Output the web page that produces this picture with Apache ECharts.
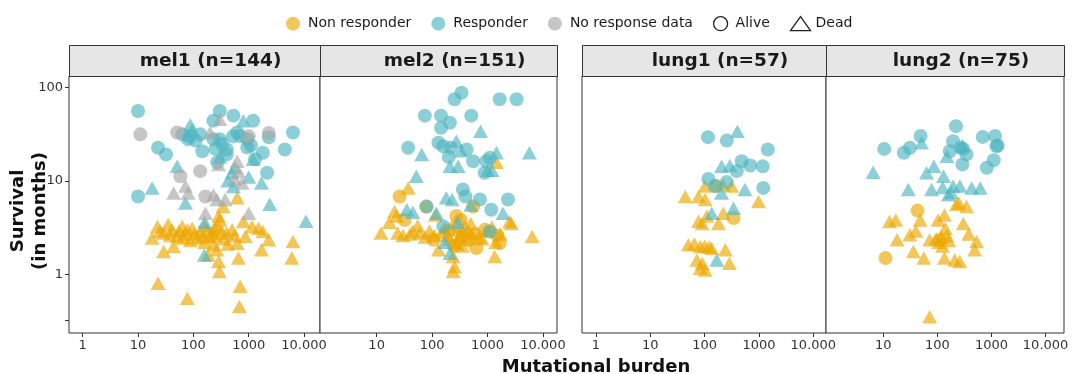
<!DOCTYPE html>
<html><head><meta charset="utf-8">
<script src="https://cdn.jsdelivr.net/npm/echarts@6/dist/echarts.min.js"></script>
<style>html,body{margin:0;padding:0;background:#fff}#c{width:1073px;height:374px}</style>
</head><body><div id="c"></div><script>
// ---------- DATA ([mutational burden, survival in months]) ----------
const panelTitles = ['mel1 (n=144)', 'mel2 (n=151)', 'lung1 (n=57)', 'lung2 (n=75)'];
const xTickValues = [1, 10, 100, 1000, 10000];
const xTickLabels = ['1', '10', '100', '1000', '10.000'];
const yTickValues = [1, 10, 100];
const yTickLabels = ['1', '10', '100'];
const yTickExtra = [0.32];
const groupNames = ['Non responder', 'Responder', 'No response data'];
const statusNames = ['Alive', 'Dead'];

// mel1
const mel1_resp_alive = [[10,56],[10,6.8],[23,22.6],[32,19.2],[63,31.5],[80,28],[133,31.5],[145,20.8],[230,44],[300,56],[530,50],[230,28],[300,28],[400,21.7],[620,33],[700,30.3],[940,28],[940,22.8],[1200,44],[1800,20],[2150,12.2],[2300,29.3],[4500,21.7],[6300,33],[1300,17],[270,15.8],[400,19.2],[110,27],[85,30],[520,30],[330,25],[1100,24],[250,22]];
const mel1_resp_dead = [[18,8.4],[51,14.3],[72,5.8],[88,40],[95,35],[160,3.6],[158,1.6],[500,12.2],[560,14],[530,8.7],[800,44],[1000,11],[1200,17],[1700,9.5],[2400,5.6],[10800,3.7],[300,18],[420,10]];
const mel1_nodata_alive = [[11,31.5],[51,33],[58,11.2],[133,12.7],[165,6.8],[1000,30],[2300,32.6]];
const mel1_nodata_dead = [[44,7.4],[72,8.8],[80,7.4],[200,33],[300,45.6],[285,15],[230,7.1],[265,6.3],[375,6.3],[165,4.5],[620,16.2],[650,12.7],[760,9.5],[1000,4.5],[560,10.5]];
const mel1_non_alive = [];
const mel1_non_dead = [[18,2.44],[22.5,3.25],[29,2.76],[29,1.75],[35,3.4],[41,3.0],[44,1.98],[51,2.54],[63,3.25],[66,2.44],[78,3.0],[95,3.1],[118,2.44],[133,2.87],[150,2.54],[178,3.0],[185,1.6],[218,2.76],[230,2.07],[265,1.83],[285,1.37],[295,1.07],[285,4.2],[345,5.3],[320,2.9],[400,2.76],[500,3.0],[620,6.6],[620,2.15],[650,1.49],[700,0.74],[680,0.45],[800,3.67],[870,2.54],[1150,3.25],[1500,3.1],[1700,1.83],[1800,2.87],[2300,2.34],[6000,1.49],[6300,2.24],[23,0.8],[78,0.55],[300,3.8],[25,2.9],[38,2.6],[55,2.9],[70,2.7],[88,2.3],[105,2.7],[160,2.2],[200,2.5],[250,2.6],[270,3.3],[350,2.4],[420,2.1],[160,3.3],[240,3.1],[560,2.6]];

// mel2
const mel2_resp_alive = [[340,88],[255,75],[1660,75],[3350,75],[74,50],[145,50],[210,42],[510,50],[145,37],[37,22.6],[130,25.6],[160,23.5],[220,22.6],[420,21.7],[550,16.2],[950,16.2],[1100,17.7],[890,12.2],[360,8.1],[730,6.3],[1170,4.9],[2340,6.3],[80,5.3],[160,3.25],[1100,2.87],[400,6.8],[200,18]];
const mel2_resp_dead = [[750,34],[65,19.2],[275,26.6],[330,21],[1450,20],[5700,20],[52,11.2],[210,14.3],[295,14.3],[180,6.6],[230,6.3],[35,4.9],[45,4.6],[120,4.5],[1900,4.5],[290,3.6],[210,1.68],[1000,13],[1200,13],[170,2.2],[500,5.5]];
const mel2_nodata_alive = [];
const mel2_nodata_dead = [];
const mel2_non_alive = [[26,6.8],[78,5.3],[550,5.3],[32,3.8],[275,4.2],[330,3.8],[105,2.34],[630,1.9],[1660,2.15],[200,2.9],[350,2.5],[600,2.7],[900,3.0],[1500,2.6],[450,2.3],[250,2.0]];
const mel2_non_dead = [[12,2.76],[21,4.7],[37,8.4],[24,2.76],[30,2.6],[40,2.7],[60,2.76],[75,2.5],[115,4.3],[130,1.83],[150,2.8],[190,2.6],[240,1.55],[255,1.2],[240,1.07],[280,2.1],[320,2.6],[420,2.4],[700,2.5],[1350,1.55],[1450,15.8],[2500,3.67],[2700,3.5],[6400,2.54],[1700,2.7],[45,2.9],[55,3.3],[90,2.9],[110,2.6],[170,3.1],[210,2.4],[230,3.3],[300,3.0],[360,2.8],[380,3.3],[450,2.9],[520,2.7],[800,2.4],[1000,2.9],[1200,3.2],[270,2.2],[350,2.0],[500,3.5],[1400,2.2],[17,3.6],[23,4.2]];

// lung1
const lung1_resp_alive = [[115,29.4],[255,27],[1450,21.7],[480,16.2],[690,14.6],[1170,14.3],[390,12.7],[117,10.5],[255,9.7],[1200,8.4],[155,8.8]];
const lung1_resp_dead = [[400,34],[205,14.3],[290,14.6],[550,8.1],[205,7.4],[135,4.5],[340,5.1],[167,1.42]];
const lung1_nodata_alive = [];
const lung1_nodata_dead = [];
const lung1_non_alive = [[340,4.0],[160,8.8]];
const lung1_non_dead = [[44,6.8],[77,6.8],[102,6.3],[102,8.8],[220,9.1],[315,8.8],[980,6.0],[77,3.7],[90,3.5],[110,4.2],[180,3.5],[220,4.5],[50,2.07],[65,2.1],[83,1.98],[100,2.0],[120,1.95],[135,1.9],[240,1.83],[72,1.42],[83,1.16],[102,1.11],[285,1.31],[90,1.3]];

// lung2
const lung2_resp_alive = [[10.4,22],[24,20],[31,22.6],[49,30.3],[220,38.6],[195,26.6],[170,20.8],[270,22.6],[345,19.2],[290,15],[690,29.6],[1160,30.3],[1240,23.5],[1100,16.6],[820,13.8],[300,22],[1300,24]];
const lung2_resp_dead = [[6.5,12.4],[51,25.6],[63,12.2],[86,14.3],[29,8.1],[78,8.1],[130,11.2],[125,8.5],[160,7.1],[195,8.8],[260,8.8],[430,8.4],[620,8.4],[150,18.4],[290,24],[180,7.5]];
const lung2_nodata_alive = [];
const lung2_nodata_dead = [];
const lung2_non_alive = [[43,4.8],[11,1.49],[110,2.3]];
const lung2_non_dead = [[13,3.67],[17,3.8],[18,2.34],[31,2.64],[36,1.75],[40,2.9],[48,3.8],[56,1.49],[72,2.34],[103,3.8],[135,4.3],[140,3.1],[125,2.0],[135,1.49],[160,2.3],[210,1.42],[260,1.37],[225,5.6],[345,5.3],[300,3.5],[380,2.7],[530,2.24],[490,1.83],[72,0.35],[95,2.4],[120,2.5],[105,2.2],[150,2.6],[250,5.8]];

// ---------- LAYOUT / STYLE ----------
const FONT = 'DejaVu Sans';
const COLORS = ['#EDA800', '#4FB6C0', '#A8A8A8'];
const ALPHA = 0.65;
const panelLeft = [69, 320, 582, 826];
const panelWidth = [251, 237, 244, 238];
const panelTop = 76, panelHeight = 257;
const panelXMin = [0.566, 0.951, 0.553, 0.873];
const panelXMax = [19400, 17950, 17100, 21900];
const yMin = 0.234, yMax = 133;
const panelShowX1 = [true, false, true, false];

const panelData = [
  [[mel1_non_alive, mel1_non_dead], [mel1_resp_alive, mel1_resp_dead], [mel1_nodata_alive, mel1_nodata_dead]],
  [[mel2_non_alive, mel2_non_dead], [mel2_resp_alive, mel2_resp_dead], [mel2_nodata_alive, mel2_nodata_dead]],
  [[lung1_non_alive, lung1_non_dead], [lung1_resp_alive, lung1_resp_dead], [lung1_nodata_alive, lung1_nodata_dead]],
  [[lung2_non_alive, lung2_non_dead], [lung2_resp_alive, lung2_resp_dead], [lung2_nodata_alive, lung2_nodata_dead]]
];

const grids = [], xAxes = [], yAxes = [], series = [], graphics = [];
for (let p = 0; p < 4; p++) {
  grids.push({left: panelLeft[p], top: panelTop, width: panelWidth[p], height: panelHeight,
    show: true, borderColor: '#333', borderWidth: 1, backgroundColor: '#fff',
    containLabel: false, outerBoundsMode: 'none'});
  const xl = panelShowX1[p] ? xTickValues : xTickValues.slice(1);
  xAxes.push({type: 'log', logBase: 10, gridIndex: p, min: panelXMin[p], max: panelXMax[p],
    axisLine: {show: false}, splitLine: {show: false}, minorTick: {show: false},
    axisTick: {show: true, length: 4, lineStyle: {color: '#333'}, customValues: xl},
    axisLabel: {show: true, margin: 6, fontFamily: FONT, fontSize: 13, color: '#333', customValues: xl,
      formatter: v => { const i = xTickValues.findIndex(t => Math.abs(t - v) / t < 1e-6); return i >= 0 ? xTickLabels[i] : ''; }}});
  yAxes.push({type: 'log', logBase: 10, gridIndex: p, min: yMin, max: yMax,
    axisLine: {show: false}, splitLine: {show: false}, minorTick: {show: false},
    axisTick: {show: p === 0, length: 4, lineStyle: {color: '#333'}, customValues: yTickExtra.concat(yTickValues)},
    axisLabel: {show: p === 0, margin: 6, fontFamily: FONT, fontSize: 13, color: '#333', customValues: yTickValues,
      formatter: v => { const i = yTickValues.findIndex(t => Math.abs(t - v) / t < 1e-6); return i >= 0 ? yTickLabels[i] : ''; }}});
  for (let g = 0; g < 3; g++) {
    for (let s = 0; s < 2; s++) {
      const d = panelData[p][g][s];
      if (!d.length) continue;
      series.push({type: 'scatter', name: groupNames[g], xAxisIndex: p, yAxisIndex: p, data: d,
        symbol: s === 0 ? 'circle' : 'triangle', symbolSize: s === 0 ? 14 : [15, 13.5],
        itemStyle: {color: COLORS[g], opacity: ALPHA}, z: 2 + g, silent: true});
    }
  }
  // strip header
  graphics.push({type: 'rect', shape: {x: panelLeft[p] + 0.5, y: 45.5, width: panelWidth[p], height: 31},
    style: {fill: '#E6E6E6', stroke: '#333', lineWidth: 1}, z: 10});
  graphics.push({type: 'text', x: panelLeft[p] + panelWidth[p] / 2 + 16, y: 61,
    style: {text: panelTitles[p], font: 'bold 18.5px "DejaVu Sans"', fill: '#1a1a1a', align: 'center', verticalAlign: 'middle'}, z: 11});
}
// legend-only series for shape
series.push({type: 'scatter', name: 'Alive', symbol: 'circle', data: [], xAxisIndex: 0, yAxisIndex: 0});
series.push({type: 'scatter', name: 'Dead', symbol: 'triangle', data: [], xAxisIndex: 0, yAxisIndex: 0});

graphics.push({type: 'text', x: 29, y: 211, rotation: Math.PI / 2,
  style: {text: 'Survival\n(in months)', font: 'bold 18px "DejaVu Sans"', fill: '#111', align: 'center', verticalAlign: 'middle', lineHeight: 22}});
graphics.push({type: 'text', x: 596, y: 367,
  style: {text: 'Mutational burden', font: 'bold 18px "DejaVu Sans"', fill: '#111', align: 'center', verticalAlign: 'middle'}});

const chart = echarts.init(document.getElementById('c'), null, {renderer: 'canvas'});
chart.setOption({
  animation: false,
  backgroundColor: '#fff',
  textStyle: {fontFamily: FONT},
  legend: {left: 281, top: 11, itemWidth: 20, itemHeight: 14, itemGap: 20, selectedMode: false, symbolKeepAspect: true,
    textStyle: {fontFamily: FONT, fontSize: 14, color: '#1a1a1a'},
    data: [
      {name: groupNames[0], icon: 'circle', itemStyle: {color: COLORS[0], opacity: ALPHA, borderWidth: 0}},
      {name: groupNames[1], icon: 'circle', itemStyle: {color: COLORS[1], opacity: ALPHA, borderWidth: 0}},
      {name: groupNames[2], icon: 'circle', itemStyle: {color: COLORS[2], opacity: ALPHA, borderWidth: 0}},
      {name: statusNames[0], icon: 'circle', itemStyle: {color: '#fff', borderColor: '#222', borderWidth: 1.3, opacity: 1}},
      {name: statusNames[1], icon: 'triangle', itemStyle: {color: '#fff', borderColor: '#222', borderWidth: 1.3, opacity: 1}}
    ]},
  grid: grids, xAxis: xAxes, yAxis: yAxes, series: series, graphic: graphics
});
</script></body></html>
